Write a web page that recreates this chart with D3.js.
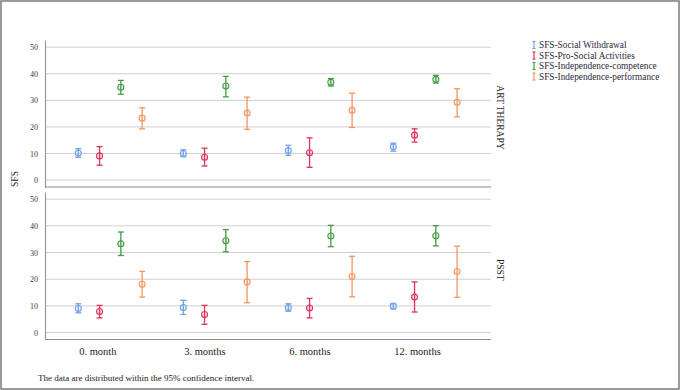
<!DOCTYPE html>
<html>
<head>
<meta charset="utf-8">
<script src="https://cdn.jsdelivr.net/npm/d3@7"></script>
<style>
html,body{margin:0;padding:0;background:#fff;}
svg{display:block;}
text{font-family:"Liberation Serif","DejaVu Serif",serif;}
</style>
</head>
<body>
<svg id="chart" width="683" height="390"></svg>
<script>
const categories = ["0. month", "3. months", "6. months", "12. months"];
const seriesNames = ["SFS-Social Withdrawal", "SFS-Pro-Social Activities", "SFS-Independence-competence", "SFS-Independence-performance"];
const seriesColors = ["#6fa3e8", "#e0325c", "#449c44", "#f5955f"];
const panels = ["ART THERAPY", "PSST"];
const yTicks = [0, 10, 20, 30, 40, 50];

// ART THERAPY: mean, lower, upper for each series across categories
const artMean = [[10.2, 10.0, 11.1, 12.5], [9.1, 8.6, 10.3, 16.9], [34.9, 35.4, 36.8, 37.9], [23.3, 25.2, 26.3, 29.3]];
const artLow  = [[8.6, 8.8, 9.3, 10.9], [5.6, 5.3, 4.8, 14.3], [32.3, 31.3, 35.4, 36.5], [19.3, 19.1, 19.8, 23.8]];
const artHigh = [[11.8, 11.4, 13.1, 13.9], [12.6, 12.0, 15.9, 19.3], [37.5, 39.0, 38.2, 39.4], [27.2, 31.2, 32.7, 34.4]];
// PSST
const psstMean = [[9.0, 9.4, 9.4, 9.9], [7.9, 6.8, 9.2, 13.3], [33.3, 34.4, 36.2, 36.3], [18.1, 19.0, 21.0, 22.9]];
const psstLow  = [[7.4, 6.8, 8.0, 8.9], [5.5, 3.1, 5.5, 7.7], [28.9, 30.3, 32.2, 32.5], [13.3, 11.2, 13.4, 13.2]];
const psstHigh = [[10.8, 12.1, 10.8, 10.8], [10.2, 10.2, 12.8, 19.0], [37.7, 38.6, 40.2, 40.1], [22.9, 26.6, 28.6, 32.4]];

const footnote = "The data are distributed within the 95% confidence interval.";
const yLabel = "SFS";

const svg = d3.select("#chart");
const plotLeft = 45, plotRight = 491;
const panelRanges = [[40, 187], [192, 339.5]];
const panelData = [[artMean, artLow, artHigh], [psstMean, psstLow, psstHigh]];

// frame
svg.append("rect").attr("x", 1).attr("y", 1).attr("width", 678).attr("height", 388)
  .attr("fill", "none").attr("stroke", "#7a7a7a").attr("stroke-width", 1.5);

const x = d3.scalePoint().domain(categories).range([110.2, 425.2]);
const xOff = d3.scalePoint().domain(seriesNames).range([-31.9, 31.9]);

panels.forEach((pname, pi) => {
  const [top, bottom] = panelRanges[pi];
  const y = d3.scaleLinear().domain([-2.6, 52.7]).range([bottom, top]);
  const g = svg.append("g");

  // gridlines
  g.selectAll("line.grid").data(yTicks).enter().append("line")
    .attr("x1", plotLeft).attr("x2", plotRight)
    .attr("y1", d => y(d)).attr("y2", d => y(d))
    .attr("stroke", "#cfcfcf").attr("stroke-width", 1);

  // y axis
  const ax = g.append("g").attr("transform", `translate(${plotLeft},0)`)
    .call(d3.axisLeft(y).tickValues(yTicks).tickSize(0).tickPadding(7));
  ax.select(".domain").attr("stroke", "#9a9a9a").attr("stroke-width", 1.2);
  ax.selectAll("text").attr("font-size", 8).attr("fill", "#3a3a3a")
    .attr("font-family", "Liberation Serif, serif");

  // bottom axis line
  g.append("line").attr("x1", plotLeft).attr("x2", plotRight)
    .attr("y1", bottom).attr("y2", bottom)
    .attr("stroke", "#8a8a8a").attr("stroke-width", 1.2);

  // panel label
  const cy = (top + bottom) / 2 + 4;
  g.append("text").attr("transform", `translate(499.5,${cy}) rotate(90)`)
    .attr("text-anchor", "middle").attr("dominant-baseline", "central")
    .attr("font-size", 9.5).attr("fill", "#222").text(pname);

  const [mean, low, high] = panelData[pi];
  seriesNames.forEach((s, si) => {
    const col = seriesColors[si];
    const pts = categories.map((c, ci) => ({c, m: mean[si][ci], lo: low[si][ci], hi: high[si][ci]}));
    const sg = g.append("g");
    const cx = d => x(d.c) + xOff(s);
    sg.selectAll("line.stem").data(pts).enter().append("line")
      .attr("x1", cx).attr("x2", cx).attr("y1", d => y(d.lo)).attr("y2", d => y(d.hi))
      .attr("stroke", col).attr("stroke-width", 1.3);
    ["lo", "hi"].forEach(k => {
      sg.selectAll("line.cap" + k).data(pts).enter().append("line")
        .attr("x1", d => cx(d) - 3).attr("x2", d => cx(d) + 3)
        .attr("y1", d => y(d[k])).attr("y2", d => y(d[k]))
        .attr("stroke", col).attr("stroke-width", 1.3);
    });
    sg.selectAll("circle").data(pts).enter().append("circle")
      .attr("cx", cx).attr("cy", d => y(d.m)).attr("r", 3)
      .attr("fill", col).attr("fill-opacity", 0.12)
      .attr("stroke", col).attr("stroke-width", 1.1);
  });
});

// category labels
svg.selectAll("text.cat").data(categories).enter().append("text")
  .attr("x", d => x(d) - 31).attr("y", 355)
  .attr("font-size", 10.5).attr("fill", "#222").text(d => d);

// y label
svg.append("text").attr("transform", "translate(15,179) rotate(-90)")
  .attr("text-anchor", "middle").attr("dominant-baseline", "central")
  .attr("font-size", 9.5).attr("fill", "#222").text(yLabel);

// legend
const lg = svg.append("g");
seriesNames.forEach((s, i) => {
  const ly = 45 + i * 10.5;
  const col = seriesColors[i];
  lg.append("line").attr("x1", 534).attr("x2", 534).attr("y1", ly - 3.5).attr("y2", ly + 3.5).attr("stroke", col).attr("stroke-width", 1.2);
  lg.append("line").attr("x1", 532.5).attr("x2", 535.5).attr("y1", ly - 3.5).attr("y2", ly - 3.5).attr("stroke", col).attr("stroke-width", 1.2);
  lg.append("line").attr("x1", 532.5).attr("x2", 535.5).attr("y1", ly + 3.5).attr("y2", ly + 3.5).attr("stroke", col).attr("stroke-width", 1.2);
  lg.append("text").attr("x", 539).attr("y", ly).attr("dominant-baseline", "central")
    .attr("font-size", 9.3).attr("fill", "#2a2a3a").text(s);
});

// footnote
svg.append("text").attr("x", 38).attr("y", 381).attr("font-size", 9).attr("fill", "#222").text(footnote);
</script>
</body>
</html>
